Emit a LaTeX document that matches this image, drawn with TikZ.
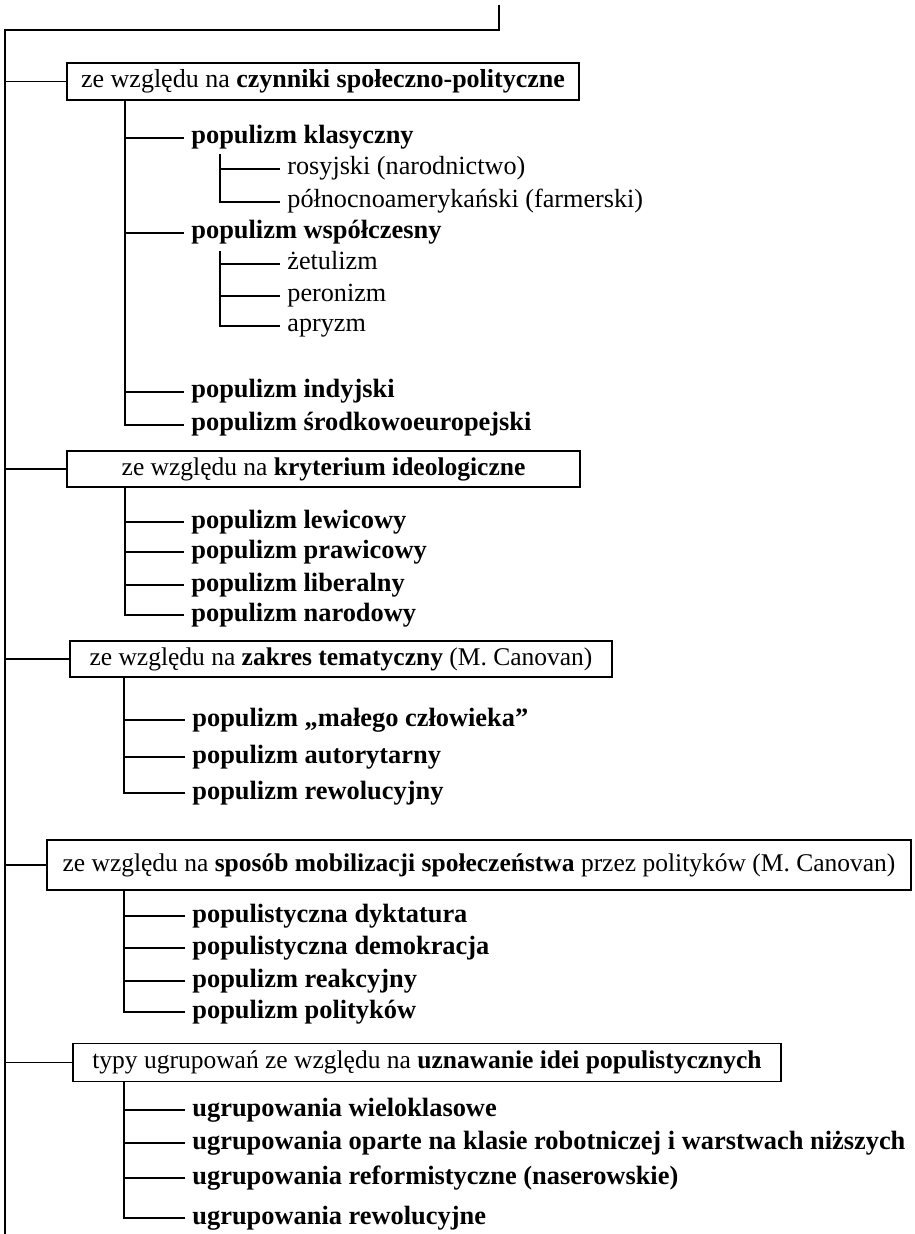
\documentclass[tikz,border=0pt]{standalone}
\usepackage{fontspec}
\setmainfont{Liberation Serif}
\begin{document}
\begin{tikzpicture}[x=0.5pt,y=-0.5pt,font=\fontsize{12.75}{15}\selectfont]
\tikzset{
  box/.style={draw,line width=0.95pt,inner sep=0pt,align=center},
  item/.style={anchor=west,inner xsep=3.5pt,inner ysep=0pt,text height=9pt,text depth=3pt,font=\fontsize{13.2}{15}\selectfont},
  subitem/.style={item,font=\fontsize{13.1}{15}\selectfont},
  ln/.style={line width=0.95pt}
}
\useasboundingbox (0,0) rectangle (914,1234);
\coordinate (top) at (499,5);
\coordinate (mtop) at (5,30);
\coordinate (mbot) at (5,1234);
\draw[ln] (top) |- (mtop) -- (mbot);

% group 1
\node[box,minimum width=256pt,minimum height=18.5pt,font=\fontsize{13}{15}\selectfont] (b1) at (323,81.5) {ze względu na \textbf{czynniki społeczno-polityczne}};
\draw[ln] (mtop) |- (b1.west);
\coordinate (s1) at (125,100);
\node[item] (a1) at (184,138) {\textbf{populizm klasyczny}};
\node[subitem] (a1a) at (280,169) {rosyjski (narodnictwo)};
\node[subitem] (a1b) at (280,202) {północnoamerykański (farmerski)};
\node[item] (a2) at (184,233) {\textbf{populizm współczesny}};
\node[subitem] (a2a) at (280,264) {żetulizm};
\node[subitem] (a2b) at (280,296) {peronizm};
\node[subitem] (a2c) at (280,326) {apryzm};
\node[item] (a3) at (184,392) {\textbf{populizm indyjski}};
\node[item] (a4) at (184,425) {\textbf{populizm środkowoeuropejski}};
\draw[ln] (s1) |- (a1.west) (s1) |- (a2.west) (s1) |- (a3.west) (s1) |- (a4.west);
\coordinate (s1a) at (220,154);
\coordinate (s1b) at (220,251);
\draw[ln] (s1a) |- (a1a.west) (s1a) |- (a1b.west);
\draw[ln] (s1b) |- (a2a.west) (s1b) |- (a2b.west) (s1b) |- (a2c.west);

% group 2
\node[box,minimum width=256.5pt,minimum height=18pt] (b2) at (323.5,469) {ze względu na \textbf{kryterium ideologiczne}};
\draw[ln] (mtop) |- (b2.west);
\coordinate (s2) at (125,487);
\node[item] (c1) at (184,522) {\textbf{populizm lewicowy}};
\node[item] (c2) at (184,552) {\textbf{populizm prawicowy}};
\node[item] (c3) at (184,585) {\textbf{populizm liberalny}};
\node[item] (c4) at (184,615) {\textbf{populizm narodowy}};
\draw[ln] (s2) |- (c1.west) (s2) |- (c2.west) (s2) |- (c3.west) (s2) |- (c4.west);

% group 3
\node[box,minimum width=271pt,minimum height=18pt] (b3) at (341,659) {ze względu na \textbf{zakres tematyczny} (M. Canovan)};
\draw[ln] (mtop) |- (b3.west);
\coordinate (s3) at (124,677);
\node[item] (d1) at (185,720) {\textbf{populizm „małego człowieka”}};
\node[item] (d2) at (185,757) {\textbf{populizm autorytarny}};
\node[item] (d3) at (185,793) {\textbf{populizm rewolucyjny}};
\draw[ln] (s3) |- (d1.west) (s3) |- (d2.west) (s3) |- (d3.west);

% group 4
\node[box,minimum width=432pt,minimum height=25pt] (b4) at (479,865) {ze względu na \textbf{sposób mobilizacji społeczeństwa} przez polityków (M. Canovan)};
\draw[ln] (mtop) |- (b4.west);
\coordinate (s4) at (124,890);
\node[item] (e1) at (185,916) {\textbf{populistyczna dyktatura}};
\node[item] (e2) at (185,948) {\textbf{populistyczna demokracja}};
\node[item] (e3) at (185,981) {\textbf{populizm reakcyjny}};
\node[item] (e4) at (185,1012) {\textbf{populizm polityków}};
\draw[ln] (s4) |- (e1.west) (s4) |- (e2.west) (s4) |- (e3.west) (s4) |- (e4.west);

% group 5
\node[box,minimum width=354pt,minimum height=19pt] (b5) at (427,1062.5) {typy ugrupowań ze względu na \textbf{uznawanie idei populistycznych}};
\draw[ln] (mtop) |- (b5.west);
\coordinate (s5) at (124,1081.5);
\node[item] (f1) at (185,1110) {\textbf{ugrupowania wieloklasowe}};
\node[item] (f2) at (185,1143) {\textbf{ugrupowania oparte na klasie robotniczej i warstwach niższych}};
\node[item] (f3) at (185,1178) {\textbf{ugrupowania reformistyczne (naserowskie)}};
\node[item] (f4) at (185,1218) {\textbf{ugrupowania rewolucyjne}};
\draw[ln] (s5) |- (f1.west) (s5) |- (f2.west) (s5) |- (f3.west) (s5) |- (f4.west);
\end{tikzpicture}
\end{document}
